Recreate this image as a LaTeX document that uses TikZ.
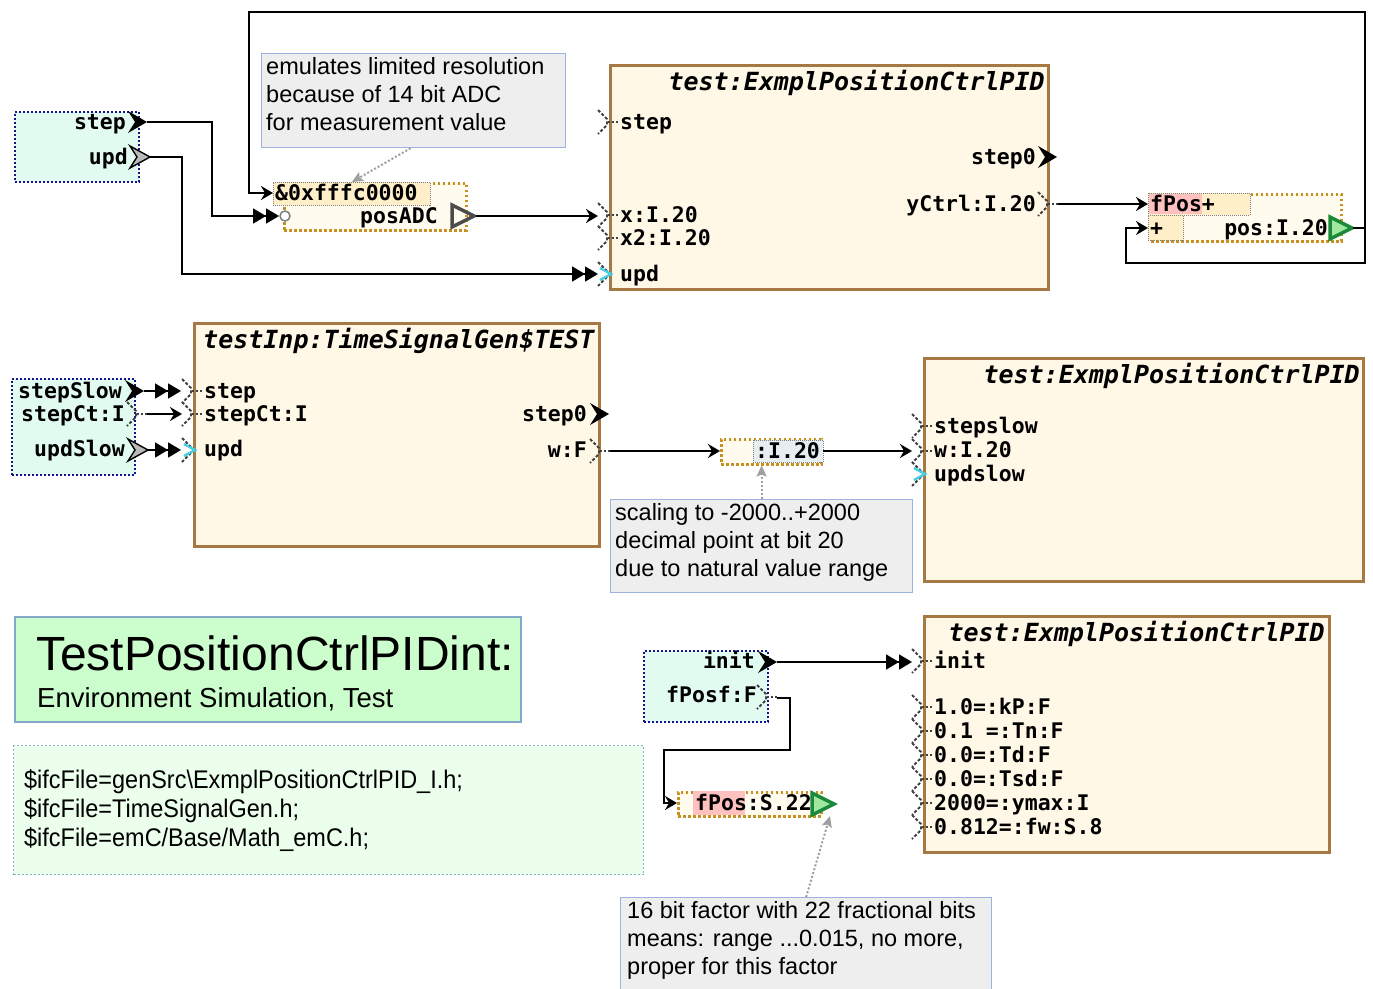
\documentclass[tikz,border=0pt]{standalone}
\usepackage{fontspec}
\setmainfont{Liberation Sans}
\newfontfamily\blkmono{DejaVu Sans Mono}
\newfontfamily\narrowsans{Liberation Sans}[FakeStretch=0.92]
\usetikzlibrary{arrows.meta}

\definecolor{inpfill}{RGB}{226,251,240}
\definecolor{inpborder}{RGB}{20,20,140}
\definecolor{blkfill}{RGB}{255,248,231}
\definecolor{blkborder}{RGB}{166,120,67}
\definecolor{ornborder}{RGB}{200,144,32}
\definecolor{smlfill}{RGB}{255,251,239}
\definecolor{lblfill}{RGB}{255,239,200}
\definecolor{sclfill}{RGB}{230,238,242}
\definecolor{pinkfill}{RGB}{255,192,192}
\definecolor{notefill}{RGB}{238,238,238}
\definecolor{noteborder}{RGB}{157,178,222}
\definecolor{ttlfill}{RGB}{204,253,204}
\definecolor{ttlborder}{RGB}{130,170,200}
\definecolor{ifcfill}{RGB}{236,254,236}
\definecolor{ifcborder}{RGB}{140,175,205}
\definecolor{grnfill}{RGB}{160,232,160}
\definecolor{grnborder}{RGB}{26,138,58}
\definecolor{updcyan}{RGB}{70,205,225}

\newcommand*{\portfont}{\blkmono\bfseries\fontsize{21.5}{24}\selectfont}
\newcommand*{\titlefont}{\blkmono\bfseries\itshape\fontsize{25}{28}\selectfont}
\newcommand*{\notefont}{\fontsize{23.5}{28}\selectfont}

\begin{document}
\begin{tikzpicture}
[
	x=1pt,y=-1pt,
	inbox/.style={draw=inpborder,dash pattern=on 2pt off 2pt,line width=2,fill=inpfill,anchor=north west,inner sep=0pt},
	blockbox/.style={draw=blkborder,line width=3,fill=blkfill,anchor=north west,inner sep=0pt},
	smallbox/.style={draw=ornborder,dash pattern=on 2.5pt off 2.5pt,line width=2.5,fill=smlfill,anchor=north west,inner sep=0pt},
	lblbox/.style={draw=gray,dash pattern=on 1pt off 1pt,line width=0.8,anchor=north west,inner sep=0pt},
	notebox/.style={draw=noteborder,line width=1.2,fill=notefill,anchor=north west,inner sep=0pt},
	notetext/.style={anchor=north west,font=\notefont,align=left,inner sep=0pt},
	port/.style={font=\portfont,inner sep=0pt,yshift=-5pt},
	blktitle/.style={font=\titlefont,inner sep=0pt,yshift=-6pt},
	conn/.style={line width=1.8},
	dblarr/.style={conn,-{Triangle[length=13pt,width=15pt]Triangle[length=13pt,width=15pt]}},
	sglarr/.style={conn,-{Stealth[length=12pt,width=14pt,inset=4pt]}},
	notearr/.style={draw=gray!75,line width=2,dash pattern=on 2pt off 2pt,-{Stealth[length=11pt,width=10pt,inset=2pt]}},
	chevout/.pic={\fill (0,-11) -- (19,0) -- (0,11) -- (7,0) -- cycle;},
	chevgray/.pic={\filldraw[fill=gray!55,draw=black,line width=1.4] (0,-11) -- (20,0) -- (0,11) -- (7,0) -- cycle;},
	dport/.pic={\draw[black!75,line width=2,dash pattern=on 3pt off 2pt] (0,-12) -- (9,-3) -- (9,3) -- (0,12);
		\draw[black!75,line width=2,dash pattern=on 2pt off 2pt] (10,0) -- (20,0);},
	uport/.pic={\draw[black!75,line width=2,dash pattern=on 3pt off 2pt] (0,-12) -- (9,-3);
		\draw[black!75,line width=2,dash pattern=on 3pt off 2pt] (9,3) -- (0,12);
		\draw[updcyan,line width=2.4] (2,-6) -- (13,0) -- (2,6);}
]
	\useasboundingbox (0,0) rectangle (1373,988);

	% position controller with emulated ADC
	\node[inbox,minimum width=124,minimum height=70] (inA) at (14,111) {};
	\node[port,anchor=mid east] (inAstep) at (126,122) {step};
	\pic at (128,122) {chevout};
	\coordinate (oStep) at (147,122);
	\node[port,anchor=mid east] (inAupd) at (128,157) {upd};
	\pic at (130,157) {chevgray};
	\coordinate (oUpd) at (150,157);

	\node[notebox,minimum width=304,minimum height=94] (nAdc) at (261,53) {};
	\node[notetext] (nAdcTxt) at (266,57) {emulates limited resolution\\because of 14 bit ADC\\for measurement value};

	\node[smallbox,minimum width=182,minimum height=47] (adc) at (283,182) {};
	\node[lblbox,fill=lblfill,minimum width=157,minimum height=23] (mask) at (273,182) {};
	\node[port,anchor=mid west] (maskTxt) at (275,193) {\&0xfffc0000};
	\node[port,anchor=mid east] (adcTxt) at (438,216) {posADC};
	\draw[gray,line width=1.5,fill=white] (285,216) circle (5);
	\draw[black!70,line width=3.5] (452,205) -- (474,216) -- (452,227) -- cycle;
	\coordinate (iMask) at (273,193);
	\coordinate (iAdc) at (279,216);
	\coordinate (oAdc) at (476,216);

	\node[blockbox,minimum width=438,minimum height=224] (tOne) at (609,64) {};
	\node[blktitle,anchor=mid east] (tOneName) at (1045,82) {test:ExmplPositionCtrlPID};
	\foreach \y/\t in {122/step,215/x:I.20,238/x2:I.20}{
		\pic at (598,\y) {dport};
		\node[port,anchor=mid west] (tOne\y) at (620,\y) {\t};
	}
	\pic at (598,274) {uport};
	\node[port,anchor=mid west] (tOneUpd) at (620,274) {upd};
	\coordinate (iOneX) at (598,216);
	\coordinate (iOneUpd) at (598,274);
	\node[port,anchor=mid east] (tOneStep0) at (1036,157) {step0};
	\pic at (1038,157) {chevout};
	\node[port,anchor=mid east] (tOneY) at (1036,204) {yCtrl:I.20};
	\pic at (1038,204) {dport};
	\coordinate (oY) at (1058,204);

	\node[smallbox,minimum width=190,minimum height=47] (sum) at (1150,193) {};
	\node[lblbox,fill=lblfill,minimum width=102,minimum height=22] (sumA) at (1148,193) {};
	\fill[pinkfill] (1149,194) rectangle (1202,214);
	\node[port,anchor=mid west] (sumATxt) at (1150,204) {fPos+};
	\node[lblbox,fill=lblfill,minimum width=35,minimum height=25] (sumB) at (1148,215) {};
	\node[port,anchor=mid west] (sumBTxt) at (1150,228) {+};
	\node[port,anchor=mid east] (sumTxt) at (1328,228) {pos:I.20};
	\filldraw[fill=grnfill,draw=grnborder,line width=3.5] (1330,217) -- (1352,228) -- (1330,239) -- cycle;
	\coordinate (iSumA) at (1148,204);
	\coordinate (iSumB) at (1148,228);
	\coordinate (oPos) at (1353,228);

	\draw[dblarr] (oStep) -- ++(65,0) |- (iAdc);
	\draw[dblarr] (oUpd) -- ++(32,0) |- (iOneUpd);
	\draw[sglarr] (oAdc) -- (iOneX);
	\draw[sglarr] (oY) -- (iSumA);
	\draw[sglarr] (oPos) -- ++(12,0) |- (1126,263) |- (iSumB);
	\draw[sglarr] (oPos) -- ++(12,0) |- (249,12) |- (iMask);
	\draw[notearr] (nAdc.south) ++(-3,0) -- (mask.north);

	% signal generator and scaling
	\node[inbox,minimum width=123,minimum height=96] (inB) at (11,378) {};
	\node[port,anchor=mid east] (inBslow) at (122,391) {stepSlow};
	\pic at (125,391) {chevout};
	\coordinate (oSlow) at (144,391);
	\node[port,anchor=mid east] (inBct) at (125,414) {stepCt:I};
	\pic at (127,414) {dport};
	\coordinate (oCt) at (147,414);
	\node[port,anchor=mid east] (inBupd) at (125,449) {updSlow};
	\pic at (128,450) {chevgray};
	\coordinate (oUpdS) at (148,450);

	\node[blockbox,minimum width=405,minimum height=223] (tTwo) at (193,322) {};
	\node[blktitle,anchor=mid west] (tTwoName) at (203,340) {testInp:TimeSignalGen\$TEST};
	\pic at (182,391) {dport};
	\pic at (182,414) {dport};
	\pic at (182,450) {uport};
	\node[port,anchor=mid west] (tTwoStep) at (204,391) {step};
	\node[port,anchor=mid west] (tTwoCt) at (204,414) {stepCt:I};
	\node[port,anchor=mid west] (tTwoUpd) at (204,449) {upd};
	\coordinate (iTwoStep) at (181,391);
	\coordinate (iTwoCt) at (182,414);
	\coordinate (iTwoUpd) at (181,450);
	\node[port,anchor=mid east] (tTwoStep0) at (587,414) {step0};
	\pic at (590,414) {chevout};
	\node[port,anchor=mid east] (tTwoW) at (587,450) {w:F};
	\pic at (590,451) {dport};
	\coordinate (oWF) at (610,451);

	\node[smallbox,minimum width=100,minimum height=25] (scl) at (720,438) {};
	\node[lblbox,fill=sclfill,minimum width=70,minimum height=22] (sclLbl) at (753,440) {};
	\node[port,anchor=mid west] (sclTxt) at (755,451) {:I.20};
	\coordinate (iScl) at (720,451);
	\coordinate (oScl) at (823,451);

	\node[notebox,minimum width=302,minimum height=93] (nScl) at (610,499) {};
	\node[notetext] (nSclTxt) at (615,503) {scaling to -2000..+2000\\decimal point at bit 20\\due to natural value range};

	\node[blockbox,minimum width=439,minimum height=223] (tThree) at (923,357) {};
	\node[blktitle,anchor=mid east] (tThreeName) at (1360,375) {test:ExmplPositionCtrlPID};
	\pic at (912,426) {dport};
	\pic at (912,451) {dport};
	\pic at (912,474) {uport};
	\node[port,anchor=mid west] (tThreeStep) at (934,426) {stepslow};
	\node[port,anchor=mid west] (tThreeW) at (934,450) {w:I.20};
	\node[port,anchor=mid west] (tThreeUpd) at (934,474) {updslow};
	\coordinate (iThreeW) at (912,451);

	\draw[dblarr] (oSlow) -- (iTwoStep);
	\draw[sglarr] (oCt) -- (iTwoCt);
	\draw[dblarr] (oUpdS) -- (iTwoUpd);
	\draw[sglarr] (oWF) -- (iScl);
	\draw[sglarr] (oScl) -- (iThreeW);
	\draw[notearr] (nScl.north) -- (nScl.north |- scl.south);

	% title and interface files
	\node[anchor=north west,draw=ttlborder,line width=1.5,fill=ttlfill,minimum width=506,minimum height=105,inner sep=0pt] (ttl) at (14,616) {};
	\node[anchor=base west,font=\fontsize{48}{50}\selectfont,inner sep=0pt] (ttlMain) at (36,670) {TestPositionCtrlPIDint:};
	\node[anchor=base west,font=\fontsize{27.5}{30}\selectfont,inner sep=0pt] (ttlSub) at (37,707) {Environment Simulation, Test};

	\node[anchor=north west,draw=ifcborder,dash pattern=on 2pt off 2pt,line width=1.2,fill=ifcfill,minimum width=630,minimum height=129,inner sep=0pt] (ifc) at (13,745) {};
	\node[anchor=north west,font=\narrowsans\fontsize{25.5}{29}\selectfont,align=left,inner sep=0pt] (ifcTxt) at (24,769)
		{\$ifcFile=genSrc\textbackslash ExmplPositionCtrlPID\_I.h;\\\$ifcFile=TimeSignalGen.h;\\\$ifcFile=emC/Base/Math\_emC.h;};

	% init and parameters
	\node[inbox,minimum width=124,minimum height=71] (inC) at (643,650) {};
	\node[port,anchor=mid east] (inCinit) at (755,661) {init};
	\pic at (758,662) {chevout};
	\coordinate (oInit) at (777,662);
	\node[port,anchor=mid east] (inCf) at (757,695) {fPosf:F};
	\pic at (757,697) {dport};
	\coordinate (oFposf) at (777,698);

	\node[smallbox,minimum width=143,minimum height=24] (fpos) at (677,791) {};
	\fill[pinkfill] (693,791) rectangle (745,815);
	\node[port,anchor=mid west] (fposTxt) at (695,803) {fPos:S.22};
	\filldraw[fill=grnfill,draw=grnborder,line width=3.5] (812,793) -- (834,804) -- (812,815) -- cycle;
	\coordinate (iFpos) at (677,803);

	\node[notebox,minimum width=371,minimum height=100] (nFpos) at (620,897) {};
	\node[notetext] (nFposTxt) at (627,901) {16 bit factor with 22 fractional bits\\means: range ...0.015, no more,\\proper for this factor};

	\node[blockbox,minimum width=405,minimum height=236] (tFour) at (923,615) {};
	\node[blktitle,anchor=mid east] (tFourName) at (1325,633) {test:ExmplPositionCtrlPID};
	\pic at (912,661) {dport};
	\node[port,anchor=mid west] (tFourInit) at (934,661) {init};
	\coordinate (iFourInit) at (912,662);
	\foreach \y/\t in {707/1.0=:kP:F,731/0.1 =:Tn:F,755/0.0=:Td:F,779/0.0=:Tsd:F,803/2000=:ymax:I,827/0.812=:fw:S.8}{
		\pic at (912,\y) {dport};
		\node[port,anchor=mid west] (tFour\y) at (934,\y) {\t};
	}

	\draw[dblarr] (oInit) -- (iFourInit);
	\draw[sglarr] (oFposf) -| (790,750) -| (664,803) -- (iFpos);
	\draw[notearr] (nFpos.north) -- (830,816);

\end{tikzpicture}
\end{document}
